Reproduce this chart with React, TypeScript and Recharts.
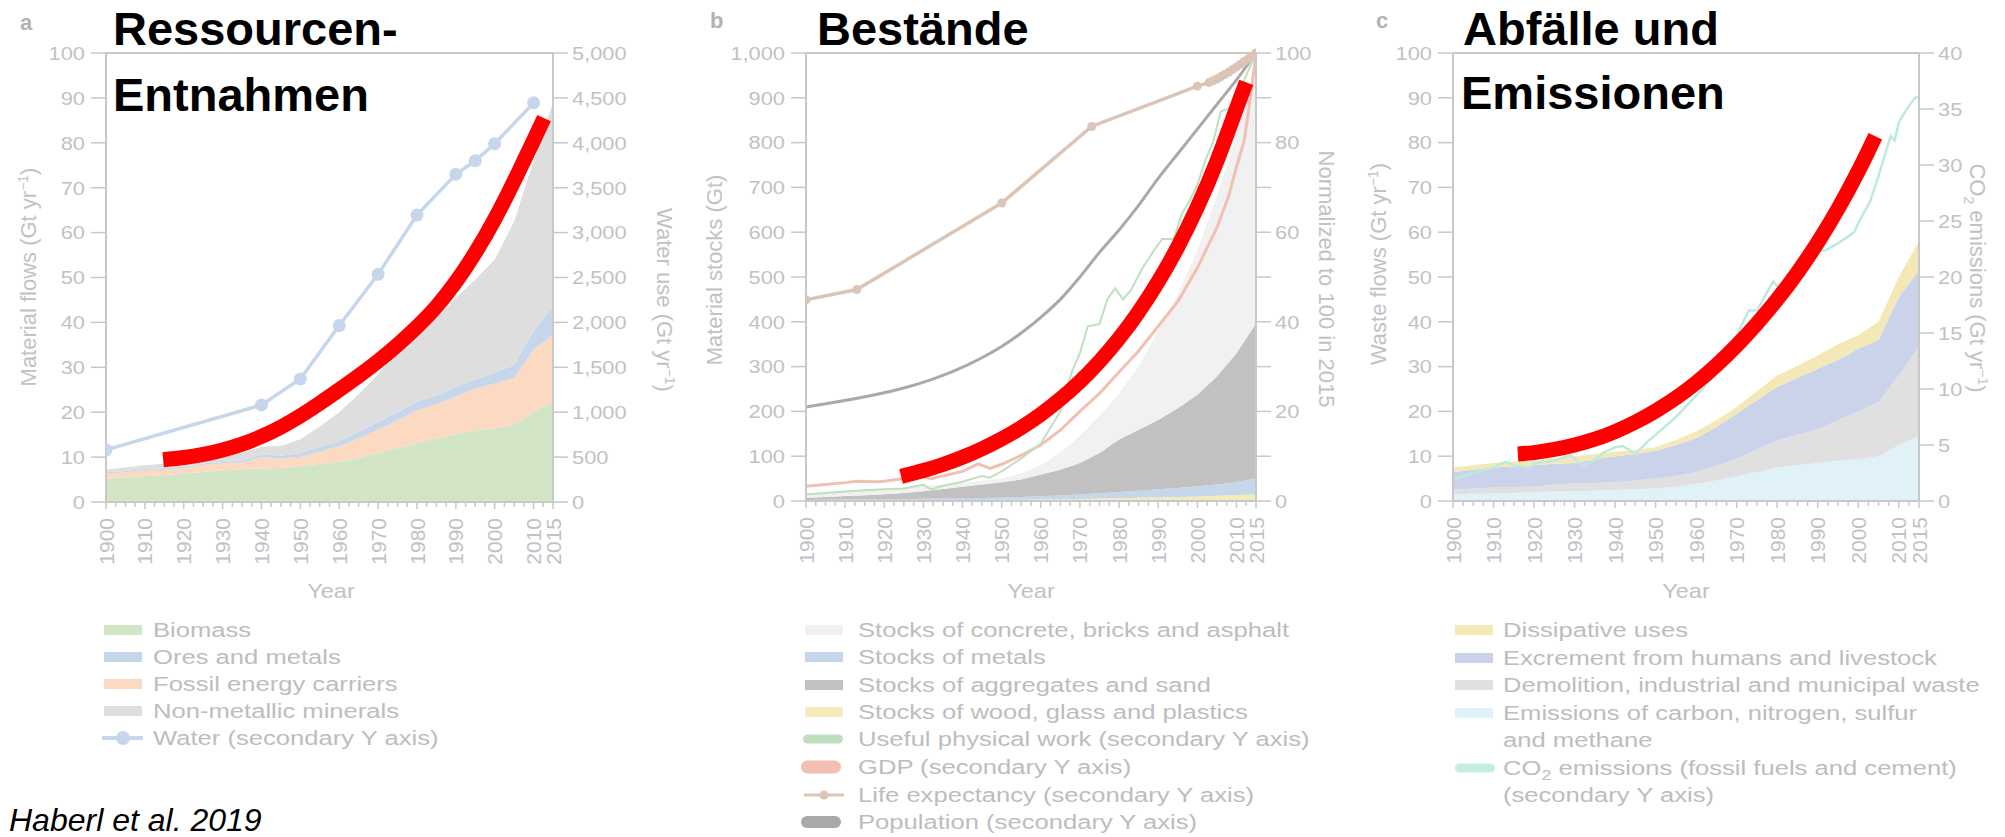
import React from 'react'
import { ComposedChart, Area, Line, XAxis, YAxis, ReferenceLine } from 'recharts'

const FONT = '"Liberation Sans", Arial, Helvetica, sans-serif'
const TXT = '#c0c2c6'
const LEG = '#bdbdbd'
const AX = '#c8c8c8'
const RED = '#ff0000'
const SX = 1.15

// --- year axis ---
const majorYears = [1900, 1910, 1920, 1930, 1940, 1950, 1960, 1970, 1980, 1990, 2000, 2010, 2015]
const yearTicks = Array.from({ length: 47 }, (_, i) => 1900 + i * 2.5)
const stackYears = [1900, 1905, 1910, 1915, 1920, 1925, 1930, 1935, 1940, 1945, 1950, 1955, 1960, 1965, 1970, 1975, 1980, 1985, 1990, 1995, 2000, 2005, 2010, 2015]

// --- panel a: extraction (Gt/yr) ---
const biomassA = [5.2, 5.5, 5.8, 6.0, 6.3, 6.7, 7.0, 7.3, 7.5, 7.6, 8.0, 8.5, 9.0, 9.8, 11.0, 12.0, 13.2, 14.2, 15.1, 15.9, 16.4, 17.2, 20.1, 22.4]
const fossilA = [1.1, 1.1, 1.3, 1.2, 1.3, 1.6, 1.6, 1.5, 2.5, 2.1, 2.1, 2.7, 3.4, 4.4, 5.1, 6.2, 7.2, 7.6, 8.4, 9.3, 10.0, 10.4, 13.8, 14.8]
const oresA = [0.3, 0.3, 0.3, 0.3, 0.3, 0.3, 0.3, 0.4, 0.6, 0.6, 0.8, 1.0, 1.2, 1.4, 1.7, 1.8, 1.9, 2.0, 2.1, 2.1, 2.4, 2.9, 4.3, 6.3]
const mineralsA = [0.6, 0.8, 0.8, 1.0, 1.1, 1.2, 1.5, 1.8, 1.7, 2.2, 3.1, 4.6, 6.4, 8.4, 10.7, 13.5, 15.2, 17.2, 19.9, 22.2, 25.2, 32.0, 37.8, 45.5]
const waterYears = [1900, 1940, 1950, 1960, 1970, 1980, 1990, 1995, 2000, 2010]
const waterA = [580, 1080, 1370, 1965, 2535, 3195, 3650, 3800, 3990, 4445]
const redYearsA = [1914.7, 1920, 1925, 1930, 1935, 1940, 1945, 1950, 1955, 1960, 1965, 1970, 1975, 1980, 1985, 1990, 1995, 2000, 2005, 2010, 2012.7]
const redA = [9.4, 9.9, 10.6, 11.6, 12.9, 14.6, 16.7, 19.2, 22.0, 25.0, 28.1, 31.4, 35.0, 39.0, 43.5, 49.0, 55.5, 63.0, 71.5, 80.5, 85.5]

// --- panel b: stocks (Gt) ---
const woodB = [1.0, 1.1, 1.2, 1.3, 1.4, 1.5, 1.7, 1.9, 2.1, 2.3, 2.6, 3.0, 3.5, 4.0, 4.7, 5.4, 6.2, 7.0, 8.0, 9.0, 10.2, 11.6, 13.3, 15.0]
const metalsB = [1.5, 1.8, 2.2, 2.5, 2.8, 3.1, 3.5, 3.8, 4.3, 4.6, 5.0, 6.0, 7.0, 8.5, 10.0, 12.0, 14.0, 16.0, 18.0, 20.0, 22.5, 25.5, 29.0, 35.0]
const aggregatesB = [4.9, 6.1, 7.6, 9.2, 10.8, 13.4, 16.8, 21.3, 25.6, 30.1, 34.4, 39.0, 48.5, 57.5, 70.3, 89.6, 116.8, 136, 155, 178, 204.3, 240.9, 287.7, 346]
const concreteB = [8.6, 9, 10, 11, 12, 12, 11, 10, 9, 8, 8, 14, 21, 38, 60, 83, 103, 141, 199, 253, 323, 402, 490, 564]
const popYears = [1900, 1950, 1955, 1960, 1965, 1970, 1975, 1980, 1985, 1990, 1995, 2000, 2005, 2010, 2015]
const populationB = [21, 34.5, 37.5, 41, 45, 50, 55.5, 60.5, 66, 72, 77.5, 83, 88.5, 94, 100]
const lifeYears = [1900, 1913, 1950, 1973, 2000, 2003, 2004, 2005, 2006, 2007, 2008, 2009, 2010, 2011, 2012, 2013, 2014, 2015]
const lifeB = [44.9, 47.2, 66.5, 83.6, 92.6, 93.4, 93.8, 94.2, 94.7, 95.2, 95.7, 96.3, 96.9, 97.5, 98.1, 98.7, 99.3, 100]
const gdpYears = [1900, 1905, 1910, 1913, 1918, 1920, 1925, 1929, 1932, 1935, 1940, 1944, 1947, 1950, 1955, 1960, 1965, 1970, 1975, 1980, 1985, 1990, 1995, 2000, 2005, 2008, 2010, 2012, 2013, 2014, 2015]
const gdpB = [3.3, 3.7, 4.1, 4.4, 4.3, 4.4, 5.0, 5.5, 5.0, 5.6, 6.6, 8.3, 7.3, 8.2, 10.2, 12.5, 15.8, 20.0, 24.0, 28.8, 33.5, 39.0, 44.5, 52.0, 61.0, 68.0, 74.5, 80.5, 86.5, 93.0, 100]
const workYears = [1900, 1905, 1910, 1915, 1920, 1925, 1930, 1932, 1935, 1940, 1945, 1947, 1950, 1955, 1960, 1965, 1968, 1970, 1972, 1975, 1977, 1979, 1981, 1983, 1986, 1989, 1991, 1994, 1996, 1998, 2000, 2002, 2004, 2006, 2008, 2010, 2012, 2015]
const workB = [1.5, 1.8, 2.1, 2.4, 2.6, 2.8, 3.6, 2.6, 3.4, 4.3, 5.6, 5.2, 6.6, 9.5, 12.8, 20, 29, 33, 39, 39.5, 45, 47.5, 45, 47, 52, 56, 58.5, 58.5, 64, 67, 70.5, 76, 80, 87, 87.5, 90, 94, 100]
const redYearsB = [1924.3, 1930, 1935, 1940, 1945, 1950, 1955, 1960, 1965, 1970, 1975, 1980, 1985, 1990, 1995, 2000, 2005, 2010, 2012.5]
const redB = [55, 68, 81.5, 97.5, 116.5, 138.5, 164, 193.5, 227.5, 266.5, 311.5, 363, 422, 489.5, 567, 656, 758.5, 876, 934.5]

// --- panel c: wastes and emissions (Gt/yr) ---
const emissionsC = [1.5, 1.6, 1.7, 1.8, 2.0, 2.1, 2.2, 2.3, 2.5, 2.6, 2.8, 3.2, 3.8, 4.6, 5.5, 6.5, 7.5, 8.0, 8.5, 9.0, 9.3, 10.0, 12.5, 14.5]
const demolitionC = [1.0, 1.2, 1.3, 1.3, 1.2, 1.5, 1.8, 1.7, 1.7, 2.0, 2.2, 2.4, 2.7, 3.2, 4.0, 5.0, 6.0, 6.8, 7.5, 9.0, 10.7, 12.0, 15.5, 20.0]
const excrementC = [4.0, 4.2, 4.5, 4.6, 4.8, 4.7, 4.5, 5.3, 5.8, 5.9, 6.2, 6.9, 7.5, 8.7, 10.0, 11.0, 12.0, 12.7, 13.5, 13.5, 14.0, 14.0, 17.5, 17.0]
const dissipativeC = [1.0, 1.0, 1.0, 1.1, 1.0, 1.3, 1.5, 1.2, 1.0, 0.9, 0.8, 1.1, 1.5, 1.5, 1.5, 2.0, 2.5, 2.7, 3.0, 3.5, 3.0, 4.0, 4.5, 6.5]
const co2Years = [1900, 1905, 1910, 1913, 1915, 1919, 1920, 1925, 1929, 1932, 1935, 1937, 1940, 1942, 1945, 1948, 1950, 1955, 1960, 1965, 1970, 1973, 1975, 1979, 1981, 1983, 1986, 1990, 1992, 1995, 1999, 2000, 2003, 2005, 2008, 2009, 2010, 2012, 2014, 2015]
const co2C = [1.95, 2.5, 3.0, 3.5, 3.2, 2.9, 3.4, 3.6, 4.1, 3.1, 3.7, 4.3, 4.8, 4.9, 4.2, 5.3, 5.9, 7.5, 9.4, 11.4, 14.8, 17.0, 17.0, 19.6, 18.8, 18.6, 20.2, 22.3, 22.4, 23.0, 24.0, 24.8, 26.8, 29.0, 32.6, 32.2, 33.8, 35.0, 36.0, 36.1]
const redYearsC = [1916, 1920, 1925, 1930, 1935, 1940, 1945, 1950, 1955, 1960, 1965, 1970, 1975, 1980, 1985, 1990, 1995, 2000, 2004.2]
const redC = [10.5, 10.8, 11.5, 12.5, 13.8, 15.5, 17.6, 20.1, 23.0, 26.4, 30.3, 34.7, 39.6, 45.0, 51.0, 57.7, 65.2, 73.6, 81.4]

// tick label lists
const ticks0to100 = [0, 10, 20, 30, 40, 50, 60, 70, 80, 90, 100]
const ticksWater = [0, 500, 1000, 1500, 2000, 2500, 3000, 3500, 4000, 4500, 5000]
const ticksStock = [0, 100, 200, 300, 400, 500, 600, 700, 800, 900, 1000]
const ticksCo2 = [0, 5, 10, 15, 20, 25, 30, 35, 40]

const legendA = ['Biomass', 'Ores and metals', 'Fossil energy carriers', 'Non-metallic minerals', 'Water (secondary Y axis)']
const legendB = ['Stocks of concrete, bricks and asphalt', 'Stocks of metals', 'Stocks of aggregates and sand', 'Stocks of wood, glass and plastics', 'Useful physical work (secondary Y axis)', 'GDP (secondary Y axis)', 'Life expectancy (secondary Y axis)', 'Population (secondary Y axis)']
const legendC = ['Dissipative uses', 'Excrement from humans and livestock', 'Demolition, industrial  and municipal waste', 'Emissions of carbon, nitrogen, sulfur', 'and methane']

const rowsA = stackYears.map((year, i) => ({ year, biomass: biomassA[i], fossil: fossilA[i], ores: oresA[i], minerals: mineralsA[i] }))
const rowsB = stackYears.map((year, i) => ({ year, wood: woodB[i], metals: metalsB[i], aggregates: aggregatesB[i], concrete: concreteB[i] }))
const rowsC = stackYears.map((year, i) => ({ year, emissions: emissionsC[i], demolition: demolitionC[i], excrement: excrementC[i], dissipative: dissipativeC[i] }))
const pairs = (years: number[], vals: number[]) => years.map((year, i) => ({ year, v: vals[i] }))

const comma = (v: number) => v.toLocaleString('en-US')

const YTick = (props: any) => {
  const { x, y, payload, textAnchor, fmt, only } = props
  if (only && !only(payload.value)) return null
  return (
    <text transform={`translate(${x},${y}) scale(${SX},1)`} textAnchor={textAnchor} dy="0.36em" fill={TXT} fontSize={19} fontFamily={FONT}>
      {fmt ? fmt(payload.value) : payload.value}
    </text>
  )
}

const XTick = (props: any) => {
  const { x, y, payload } = props
  const v = payload.value
  const major = majorYears.includes(v)
  return (
    <g>
      <line x1={x} x2={x} y1={y} y2={y + (major ? 7 : 5)} stroke={AX} strokeWidth={1.5} />
      {major && (
        <text transform={`translate(${x},${y + 16}) rotate(-90)`} textAnchor="end" dy="0.36em" fill={TXT} fontSize={21} fontFamily={FONT}>
          {v}
        </text>
      )}
    </g>
  )
}

const axisLine = { stroke: AX, strokeWidth: 2 }
const tickLine = { stroke: AX, strokeWidth: 1.5 }

const yearAxis = (h: number) => (
  <XAxis dataKey="year" type="number" domain={[1900, 2015]} ticks={yearTicks} interval={0} allowDataOverflow
    tick={<XTick />} tickLine={false} tickSize={0} tickMargin={0} height={h} axisLine={axisLine} />
)

const ChartA = () => (
  <ComposedChart width={700} height={620} data={rowsA} margin={{ top: 53, right: 0, bottom: 0, left: 0 }}>
    {yearAxis(118)}
    <YAxis yAxisId="l" domain={[0, 100]} ticks={ticks0to100} interval={0} width={106} tick={<YTick />}
      tickSize={15} tickMargin={6} tickLine={tickLine} axisLine={axisLine} />
    <YAxis yAxisId="r" orientation="right" domain={[0, 5000]} ticks={ticksWater} interval={0} width={147}
      tick={<YTick fmt={comma} />} tickSize={15} tickMargin={4} tickLine={tickLine} axisLine={axisLine} />
    <ReferenceLine yAxisId="l" y={100} stroke={AX} strokeWidth={2} />
    <Area yAxisId="l" dataKey="biomass" stackId="s" type="linear" stroke="none" fill="#d3e5c7" fillOpacity={1} isAnimationActive={false} />
    <Area yAxisId="l" dataKey="fossil" stackId="s" type="linear" stroke="none" fill="#fcdac2" fillOpacity={1} isAnimationActive={false} />
    <Area yAxisId="l" dataKey="ores" stackId="s" type="linear" stroke="none" fill="#c6d6eb" fillOpacity={1} isAnimationActive={false} />
    <Area yAxisId="l" dataKey="minerals" stackId="s" type="linear" stroke="none" fill="#dedede" fillOpacity={1} isAnimationActive={false} />
    <Line yAxisId="r" data={pairs(waterYears, waterA)} dataKey="v" type="linear" stroke="#c6d6eb" strokeWidth={3.5}
      dot={{ r: 6.5, fill: '#c6d6eb', stroke: 'none' }} isAnimationActive={false} />
    <Line yAxisId="l" data={pairs(redYearsA, redA)} dataKey="v" type="natural" stroke={RED} strokeWidth={15}
      strokeLinecap="butt" dot={false} isAnimationActive={false} />
  </ComposedChart>
)

const ChartB = () => (
  <ComposedChart width={660} height={620} data={rowsB} margin={{ top: 53, right: 0, bottom: 0, left: 0 }}>
    {yearAxis(119)}
    <YAxis yAxisId="l" domain={[0, 1000]} ticks={ticksStock} interval={0} width={106} tick={<YTick fmt={comma} />}
      tickSize={15} tickMargin={6} tickLine={tickLine} axisLine={axisLine} />
    <YAxis yAxisId="r" orientation="right" domain={[0, 100]} ticks={ticks0to100} interval={0} width={104}
      tick={<YTick only={(v: number) => v % 20 === 0} />} tickSize={15} tickMargin={4} tickLine={tickLine} axisLine={axisLine} />
    <ReferenceLine yAxisId="l" y={1000} stroke={AX} strokeWidth={2} />
    <Area yAxisId="l" dataKey="wood" stackId="s" type="linear" stroke="none" fill="#f5ebb8" fillOpacity={1} isAnimationActive={false} />
    <Area yAxisId="l" dataKey="metals" stackId="s" type="linear" stroke="none" fill="#c6d6eb" fillOpacity={1} isAnimationActive={false} />
    <Area yAxisId="l" dataKey="aggregates" stackId="s" type="linear" stroke="none" fill="#c1c1c1" fillOpacity={1} isAnimationActive={false} />
    <Area yAxisId="l" dataKey="concrete" stackId="s" type="linear" stroke="none" fill="#f1f1f1" fillOpacity={1} isAnimationActive={false} />
    <Line yAxisId="r" data={pairs(popYears, populationB)} dataKey="v" type="monotone" stroke="#a9a9a9" strokeWidth={3} dot={false} isAnimationActive={false} />
    <Line yAxisId="r" data={pairs(lifeYears, lifeB)} dataKey="v" type="linear" stroke="#dbc5b6" strokeWidth={3.5}
      dot={{ r: 4.5, fill: '#dbc5b6', stroke: 'none' }} isAnimationActive={false} />
    <Line yAxisId="r" data={pairs(gdpYears, gdpB)} dataKey="v" type="linear" stroke="#f2c0b2" strokeWidth={3} dot={false} isAnimationActive={false} />
    <Line yAxisId="r" data={pairs(workYears, workB)} dataKey="v" type="linear" stroke="#bfe0bf" strokeWidth={2} dot={false} isAnimationActive={false} />
    <Line yAxisId="l" data={pairs(redYearsB, redB)} dataKey="v" type="natural" stroke={RED} strokeWidth={15}
      strokeLinecap="butt" dot={false} isAnimationActive={false} />
  </ComposedChart>
)

const ChartC = () => (
  <ComposedChart width={645} height={620} data={rowsC} margin={{ top: 53, right: 0, bottom: 0, left: 0 }}>
    {yearAxis(119)}
    <YAxis yAxisId="l" domain={[0, 100]} ticks={ticks0to100} interval={0} width={93} tick={<YTick />}
      tickSize={15} tickMargin={6} tickLine={tickLine} axisLine={axisLine} />
    <YAxis yAxisId="r" orientation="right" domain={[0, 40]} ticks={ticksCo2} interval={0} width={86}
      tick={<YTick />} tickSize={15} tickMargin={4} tickLine={tickLine} axisLine={axisLine} />
    <ReferenceLine yAxisId="l" y={100} stroke={AX} strokeWidth={2} />
    <Area yAxisId="l" dataKey="emissions" stackId="s" type="linear" stroke="none" fill="#e0f1f8" fillOpacity={1} isAnimationActive={false} />
    <Area yAxisId="l" dataKey="demolition" stackId="s" type="linear" stroke="none" fill="#e0e0e0" fillOpacity={1} isAnimationActive={false} />
    <Area yAxisId="l" dataKey="excrement" stackId="s" type="linear" stroke="none" fill="#cbd3ea" fillOpacity={1} isAnimationActive={false} />
    <Area yAxisId="l" dataKey="dissipative" stackId="s" type="linear" stroke="none" fill="#f3e8b6" fillOpacity={1} isAnimationActive={false} />
    <Line yAxisId="r" data={pairs(co2Years, co2C)} dataKey="v" type="linear" stroke="#bdebdb" strokeWidth={2.5} dot={false} isAnimationActive={false} />
    <Line yAxisId="l" data={pairs(redYearsC, redC)} dataKey="v" type="natural" stroke={RED} strokeWidth={15}
      strokeLinecap="butt" dot={false} isAnimationActive={false} />
  </ComposedChart>
)

// small text helpers for the overlay
const Sup = ({ t }: { t: string }) => (
  <>
    <tspan dy={-8} fontSize={14}>{t}</tspan>
    <tspan dy={8}>)</tspan>
  </>
)

const LegText = ({ x, y, children }: any) => (
  <text transform={`translate(${x},${y + 7}) scale(1.28,1)`} fill={LEG} fontSize={20} fontFamily={FONT}>{children}</text>
)

const Rect = ({ x, y, c }: any) => <rect x={x} y={y - 5} width={38} height={10} fill={c} />
const Pill = ({ x, y, c, w }: any) => <line x1={x + w / 2} x2={x + 40 - w / 2} y1={y} y2={y} stroke={c} strokeWidth={w} strokeLinecap="round" />

const Overlay = () => {
  const rowsA = [630, 657, 684, 711, 738]
  const rowsB = [630, 657, 685, 712, 739, 767, 795, 822]
  const rowsC = [630, 658, 685, 713, 740, 768, 795]
  const title = { fontSize: 47, fontWeight: 700, fill: '#000', fontFamily: FONT }
  const letter = { fontSize: 22, fontWeight: 700, fill: '#b3b3b3', fontFamily: FONT }
  const axisT = { fontSize: 22, fill: TXT, fontFamily: FONT, textAnchor: 'middle' as const }
  return (
    <svg width={2005} height={837} style={{ position: 'absolute', left: 0, top: 0, pointerEvents: 'none' }}>
      <text x={20} y={30} {...letter}>a</text>
      <text x={710} y={28} {...letter}>b</text>
      <text x={1376} y={28} {...letter}>c</text>

      <text x={113} y={45} {...title}>Ressourcen-</text>
      <text x={113} y={111} {...title}>Entnahmen</text>
      <text x={817} y={45} {...title}>Bestände</text>
      <text x={1463} y={45} {...title}>Abfälle und</text>
      <text x={1461} y={109} {...title}>Emissionen</text>

      <text transform="translate(36,277) rotate(-90)" {...axisT}>Material flows (Gt yr<Sup t="−1" /></text>
      <text transform="translate(657,300) rotate(90)" {...axisT}>Water use (Gt yr<Sup t="−1" /></text>
      <text transform="translate(722,270) rotate(-90)" {...axisT}>Material stocks (Gt)</text>
      <text transform="translate(1319,279) rotate(90)" {...axisT}>Normalized to 100 in 2015</text>
      <text transform="translate(1386,264) rotate(-90)" {...axisT}>Waste flows (Gt yr<Sup t="−1" /></text>
      <text transform="translate(1970,278) rotate(90)" {...axisT}>
        CO<tspan dy={6} fontSize={14}>2</tspan><tspan dy={-6}> emissions (Gt yr</tspan><Sup t="−1" />
      </text>

      {[331, 1031, 1686].map((cx) => (
        <text key={cx} transform={`translate(${cx},598) scale(1.12,1)`} fontSize={21} fill={TXT} fontFamily={FONT} textAnchor="middle">Year</text>
      ))}

      {/* legend a */}
      <Rect x={104} y={rowsA[0]} c="#d3e5c7" />
      <Rect x={104} y={rowsA[1]} c="#c6d6eb" />
      <Rect x={104} y={rowsA[2]} c="#fcdac2" />
      <Rect x={104} y={rowsA[3]} c="#dedede" />
      <line x1={102} x2={143} y1={rowsA[4]} y2={rowsA[4]} stroke="#c6d6eb" strokeWidth={4} />
      <circle cx={123} cy={rowsA[4]} r={7} fill="#c6d6eb" />
      {legendA.map((t, i) => <LegText key={t} x={153} y={rowsA[i]}>{t}</LegText>)}

      {/* legend b */}
      <Rect x={805} y={rowsB[0]} c="#f1f1f1" />
      <Rect x={805} y={rowsB[1]} c="#c6d6eb" />
      <Rect x={805} y={rowsB[2]} c="#c1c1c1" />
      <Rect x={805} y={rowsB[3]} c="#f5ebb8" />
      <Pill x={803} y={rowsB[4]} c="#bfe0bf" w={9} />
      <Pill x={801} y={rowsB[5]} c="#f2c0b2" w={13} />
      <line x1={804} x2={844} y1={rowsB[6]} y2={rowsB[6]} stroke="#dbc5b6" strokeWidth={3} />
      <circle cx={824} cy={rowsB[6]} r={4.5} fill="#dbc5b6" />
      <Pill x={801} y={rowsB[7]} c="#a9a9a9" w={12} />
      {legendB.map((t, i) => <LegText key={t} x={858} y={rowsB[i]}>{t}</LegText>)}

      {/* legend c */}
      <Rect x={1455} y={rowsC[0]} c="#f3e8b6" />
      <Rect x={1455} y={rowsC[1]} c="#cbd3ea" />
      <Rect x={1455} y={rowsC[2]} c="#e0e0e0" />
      <Rect x={1455} y={rowsC[3]} c="#e0f1f8" />
      <Pill x={1455} y={rowsC[5]} c="#c5eedd" w={9} />
      {legendC.map((t, i) => <LegText key={t} x={1503} y={rowsC[i]}>{t}</LegText>)}
      <LegText x={1503} y={rowsC[5]}>
        CO<tspan dy={5} fontSize={14}>2</tspan><tspan dy={-5}> emissions (fossil fuels and cement)</tspan>
      </LegText>
      <LegText x={1503} y={rowsC[6]}>(secondary Y axis)</LegText>

      <text x={9} y={831} fontSize={32} fontStyle="italic" fill="#000" fontFamily={FONT}>Haberl et al. 2019</text>
    </svg>
  )
}

export default function App() {
  return (
    <div style={{ position: 'absolute', left: 0, top: 0, width: 2005, height: 837, background: '#fff', overflow: 'hidden' }}>
      <div style={{ position: 'absolute', left: 0, top: 0 }}><ChartA /></div>
      <div style={{ position: 'absolute', left: 700, top: 0 }}><ChartB /></div>
      <div style={{ position: 'absolute', left: 1360, top: 0 }}><ChartC /></div>
      <Overlay />
    </div>
  )
}
